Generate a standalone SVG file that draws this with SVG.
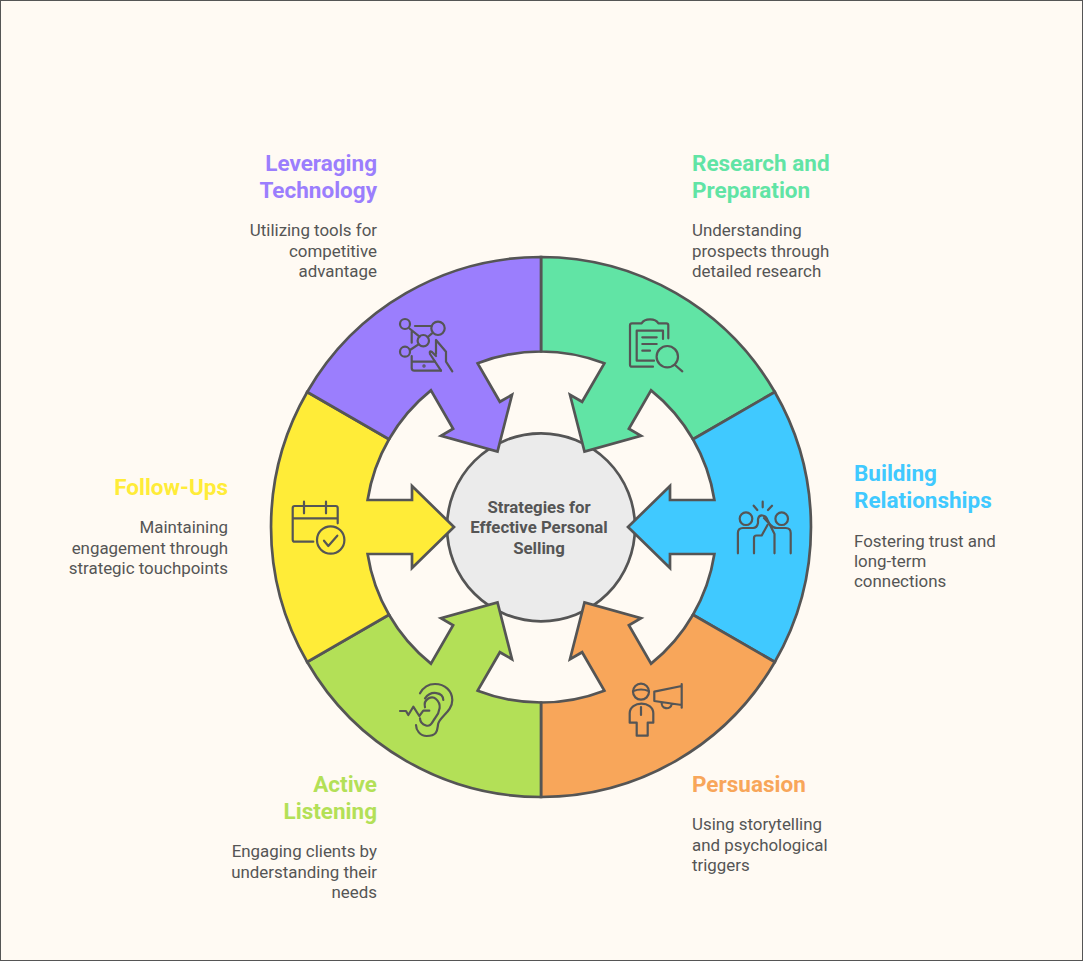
<svg xmlns="http://www.w3.org/2000/svg" width="1083" height="961" viewBox="0 0 1083 961">
<style>
.seg{stroke:#555;stroke-width:2.700;stroke-linejoin:miter}
.ic{fill:none;stroke:#555;stroke-width:2.200;stroke-linecap:round;stroke-linejoin:round}
text{font-family:Roboto,"Liberation Sans",sans-serif}
.h{font-size:22.500px;font-weight:700}
.d{font-size:16.900px;fill:#555}
.c{font-size:16.800px;font-weight:700;fill:#555;text-anchor:middle}
.e{text-anchor:end}
</style>
<defs>
<path id="seg" d="M233.800,-135A270,270 0 0 1 233.800,135L152,87.750A175.500,175.500 0 0 0 173.400,27H129V41L87,0L129,-41V-27H173.400A175.500,175.500 0 0 0 152,-87.750Z"/>
</defs>
<rect x="0.500" y="0.500" width="1082" height="960" fill="#FFFAF3" stroke="#555" stroke-width="1"/>
<g id="center">
<circle cx="541" cy="527.300" r="94" fill="#EBEBEB" stroke="#555" stroke-width="2.700"/>
</g>
<g id="research">
<use href="#seg" class="seg" fill="#61E4A5" transform="translate(541,527) rotate(-60)"/>
<g class="ic">
<path d="M641.700,323.300H632q-2,0-2,2V364.700q0,2,2,2H653M641.700,323.300q2,-4 8.300,-4t8.300,4H666.300q2,0,2,2V338.300"/>
<path d="M636.700,360.700V330.700H663V339M636.700,360.700H654M642.300,337.300H656.700M642.300,344H656.700M642.300,350.700H650"/>
<circle cx="667.300" cy="356.700" r="10.700"/>
<path d="M675,365L682.300,371.300"/>
</g>
<text class="h" fill="#61E4A5" x="692" y="171">Research and</text>
<text class="h" fill="#61E4A5" x="692" y="198">Preparation</text>
<text class="d" x="692" y="236">Understanding</text>
<text class="d" x="692" y="257">prospects through</text>
<text class="d" x="692" y="277">detailed research</text>
</g>
<g id="relationships">
<use href="#seg" class="seg" fill="#40C9FF" transform="translate(541,527)"/>
<g class="ic">
<circle cx="746" cy="518.700" r="6.300"/>
<circle cx="781.700" cy="518.700" r="6.300"/>
<path d="M762.700,501.700V507.300M753.700,505.700L757.300,510M772,505.700L768,510"/>
<path d="M737.900,553.300V533q0,-5,5,-5H753q4,0,5,-5V519q1,-4,4.500,-3.500T767,519L774.500,534V553.300"/>
<path d="M790.700,553.300V533q0,-5,-5,-5H777q-4,0,-7,-3.500L764,518M754,553.300V538q0,-2.500,2.500,-2.500H761.700L767.500,525"/>
</g>
<text class="h" fill="#40C9FF" x="854" y="481">Building</text>
<text class="h" fill="#40C9FF" x="854" y="508">Relationships</text>
<text class="d" x="854" y="547">Fostering trust and</text>
<text class="d" x="854" y="567">long-term</text>
<text class="d" x="854" y="587">connections</text>
</g>
<g id="persuasion">
<use href="#seg" class="seg" fill="#F8A65A" transform="translate(541,527) rotate(60)"/>
<g class="ic">
<circle cx="641" cy="691.700" r="8"/>
<path d="M633.300,691q7.700,-3,15.400,0M641,707V715"/>
<path d="M629.700,722.700V713.300C629.700,700.500,653.300,700.500,653.300,713.300V722.700H647.700V735.700H636.700V722.700H629.700Z"/>
<path d="M654.300,691.700V701M681.700,684V707.700M654.300,691.700L681.700,686M654.300,701L681.700,705M661.700,702.300a5,5,0,0,0,10,1.700"/>
</g>
<text class="h" fill="#F8A65A" x="692" y="792">Persuasion</text>
<text class="d" x="692" y="830">Using storytelling</text>
<text class="d" x="692" y="851">and psychological</text>
<text class="d" x="692" y="871">triggers</text>
</g>
<g id="listening">
<use href="#seg" class="seg" fill="#B3E057" transform="translate(541,527) rotate(120)"/>
<g class="ic">
<path d="M400,711H406L408.300,715L413.300,706.700L419.300,716L423.300,710.700H429.300"/>
<path d="M420,693.300C424,686,430,684,435,684C445,684,452.300,691,452.300,700C452.300,711,441,716,438.300,723.300C437,728,439,736,426.700,736C420,736,416,730,416,725"/>
<path d="M425,698.300C431,690,443,692,443.300,700"/>
<path d="M425,707.300C423,699,432,695,436,699C442,704,440,712,435,718.300C432,722,431,727,426,725.500C421,724,420,721,420,718.300"/>
</g>
<text class="h e" fill="#B3E057" x="377" y="792">Active</text>
<text class="h e" fill="#B3E057" x="377" y="819">Listening</text>
<text class="d e" x="377" y="857">Engaging clients by</text>
<text class="d e" x="377" y="878">understanding their</text>
<text class="d e" x="377" y="898">needs</text>
</g>
<g id="followups">
<use href="#seg" class="seg" fill="#FFEC38" transform="translate(541,527) rotate(180)"/>
<g class="ic">
<path d="M313.300,541.700H294.700q-2,0-2,-2V508q0,-2,2,-2H335.700q2,0,2,2V523.300M292.700,518.300H337.700M304,501.700V513.300M326,501.700V513.300"/>
<circle cx="330.700" cy="540" r="13.700"/>
<path d="M324,540.700L328.300,546L337.300,535.700"/>
</g>
<text class="h e" fill="#FFEC38" x="228" y="495">Follow-Ups</text>
<text class="d e" x="228" y="533">Maintaining</text>
<text class="d e" x="228" y="554">engagement through</text>
<text class="d e" x="228" y="574">strategic touchpoints</text>
</g>
<g id="technology">
<use href="#seg" class="seg" fill="#9B7EFD" transform="translate(541,527) rotate(-120)"/>
<g class="ic">
<circle cx="405" cy="324" r="5"/>
<circle cx="438" cy="328.300" r="6.700"/>
<circle cx="423.300" cy="340.700" r="5.700"/>
<circle cx="405" cy="351.700" r="5"/>
<path d="M415,326H431.700M409.500,328.500L419.500,336.700M411.700,331.700V342.700M432,333.300L427.800,337M410,350L418.500,344.300"/>
<path d="M411.700,356V368q0,2.700,2.700,2.700H441M412.300,361.700H435"/>
<path d="M436,340L446,351.700V361.700L452.300,371.300M436,340V354M436,356L432,352q-3,-2,-2,2L441,370.700"/>
<circle cx="424" cy="366" r="0.600"/>
</g>
<text class="h e" fill="#9B7EFD" x="377" y="171">Leveraging</text>
<text class="h e" fill="#9B7EFD" x="377" y="198">Technology</text>
<text class="d e" x="377" y="236">Utilizing tools for</text>
<text class="d e" x="377" y="257">competitive</text>
<text class="d e" x="377" y="277">advantage</text>
</g>
<g id="center-label">
<text class="c" x="539" y="513">Strategies for</text>
<text class="c" x="539" y="533">Effective Personal</text>
<text class="c" x="539" y="554">Selling</text>
</g>
</svg>
